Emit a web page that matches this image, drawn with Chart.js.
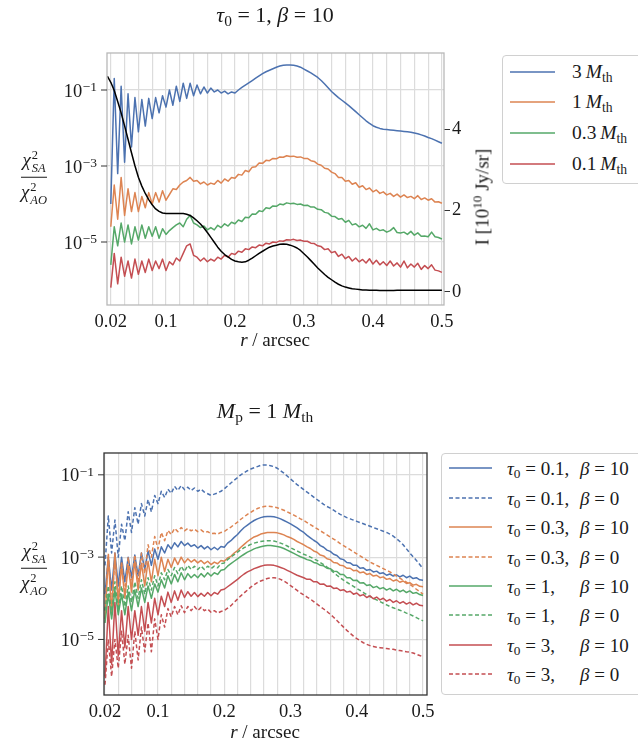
<!DOCTYPE html>
<html lang="en">
<head>
<meta charset="utf-8">
<title>Chi-square ratio vs radius</title>
<script src="https://cdn.jsdelivr.net/npm/chart.js@4.4.1/dist/chart.umd.min.js"></script>
<style>
  body { margin: 0; background: #fff; }
  #page { position: relative; width: 638px; height: 744px; overflow: hidden;
          font-family: "Liberation Serif", serif; color: #1a1a1a; }
  canvas { position: absolute; left: 0; }
  .txt { position: absolute; white-space: nowrap; line-height: 1; transform: translate(-50%, -50%); }
  sub { font-size: 0.7em; vertical-align: -0.25em; line-height: 0; }
  sup { font-size: 0.7em; vertical-align: 0.5em; line-height: 0; }
  .frac { position: absolute; transform: translate(-50%, -50%); text-align: center; font-size: 19px; line-height: 1; }
  .frac .num { border-bottom: 1.3px solid #1a1a1a; padding: 0 1px 2px 1px; }
  .frac .den { padding-top: 3px; }
  .ss { display: inline-block; vertical-align: middle; font-size: 12.5px; text-align: left; line-height: 1.05; margin-left: 1px; }
  .ss span { display: block; }
  .legbox { position: absolute; border: 1px solid #d0d0d0; border-radius: 4px; background: #fff; }
  .legrow { position: absolute; left: 0; width: 100%; height: 0; }
  .legrow svg { position: absolute; top: -4px; }
  .legrow .lab { position: absolute; top: 0; transform: translateY(-50%); white-space: nowrap; line-height: 1; }
  .taupart { display: inline-block; width: 73px; }
</style>
</head>
<body>
<div id="page">
  <canvas id="topChart" width="520" height="345" style="top:0"></canvas>
  <canvas id="bottomChart" width="450" height="345" style="top:400px"></canvas>

  <div class="txt" style="left:275px; top:15px; font-size:22px;"><i>τ</i><sub>0</sub> = 1, <i>β</i> = 10</div>
  <div class="txt" style="left:265px; top:411px; font-size:22px;"><i>M</i><sub>p</sub> = 1 <i>M</i><sub>th</sub></div>
  <div class="txt" style="left:275px; top:339px; font-size:19px;"><i>r</i> / arcsec</div>
  <div class="txt" style="left:265px; top:731px; font-size:19px;"><i>r</i> / arcsec</div>
  <div class="txt" style="left:482px; top:197px; font-size:19px; transform: translate(-50%, -50%) rotate(-90deg);">I [10<sup>10</sup> Jy/sr]</div>

  <div class="frac" style="left:34px; top:178px;">
    <div class="num"><i>χ</i><span class="ss"><span>2</span><span><i>SA</i></span></span></div>
    <div class="den"><i>χ</i><span class="ss"><span>2</span><span><i>AO</i></span></span></div>
  </div>
  <div class="frac" style="left:34px; top:569px;">
    <div class="num"><i>χ</i><span class="ss"><span>2</span><span><i>SA</i></span></span></div>
    <div class="den"><i>χ</i><span class="ss"><span>2</span><span><i>AO</i></span></span></div>
  </div>

  <div id="topLegend" class="legbox" style="left:502px; top:55px; width:150px; height:127px;"></div>
  <div id="bottomLegend" class="legbox" style="left:441px; top:453px; width:210px; height:240px;"></div>
</div>

<script>
// radius grid (arcsec)
const rValues = [
  0.015, 0.02, 0.025, 0.03, 0.035, 0.04, 0.045, 0.05, 0.055, 0.06,
  0.065, 0.07, 0.075, 0.08, 0.085, 0.09, 0.095, 0.1, 0.105, 0.11,
  0.115, 0.12, 0.125, 0.13, 0.135, 0.14, 0.145, 0.15, 0.155, 0.16,
  0.165, 0.17, 0.175, 0.18, 0.185, 0.19, 0.195, 0.2, 0.205, 0.21,
  0.215, 0.22, 0.225, 0.23, 0.235, 0.24, 0.245, 0.25, 0.255, 0.26,
  0.265, 0.27, 0.275, 0.28, 0.285, 0.29, 0.295, 0.3, 0.305, 0.31,
  0.315, 0.32, 0.325, 0.33, 0.335, 0.34, 0.345, 0.35, 0.355, 0.36,
  0.365, 0.37, 0.375, 0.38, 0.385, 0.39, 0.395, 0.4, 0.405, 0.41,
  0.415, 0.42, 0.425, 0.43, 0.435, 0.44, 0.445, 0.45, 0.455, 0.46,
  0.465, 0.47, 0.475, 0.48, 0.485, 0.49, 0.495, 0.5
];

// top panel: log10(chi2_SA / chi2_AO) for each planet mass
const massLabels = ['3', '1', '0.3', '0.1'];
const logChi3Mth = [
  null, -4.0, -0.7, -3.2, -0.9, -2.9, -1.1, -2.5, -1.2, -2.1,
  -1.25, -1.95, -1.22, -1.75, -1.2, -1.6, -1.15, -1.45, -1.0, -1.4,
  -0.9, -1.3, -0.82, -1.22, -0.82, -1.15, -0.87, -1.1, -0.92, -1.08,
  -0.95, -1.05, -1.0, -1.08, -1.03, -1.1, -1.05, -1.08, -1.0, -0.93,
  -0.87, -0.81, -0.75, -0.69, -0.63, -0.57, -0.52, -0.48, -0.44, -0.4,
  -0.37, -0.35, -0.34, -0.34, -0.35, -0.37, -0.4, -0.45, -0.5, -0.55,
  -0.61, -0.67, -0.75, -0.84, -0.94, -1.04, -1.12, -1.2, -1.27, -1.34,
  -1.41, -1.49, -1.57, -1.65, -1.73, -1.81, -1.88, -1.94, -1.98, -2.01,
  -2.03, -2.04, -2.05, -2.06, -2.07, -2.08, -2.09, -2.1, -2.11, -2.13,
  -2.15, -2.18, -2.21, -2.25, -2.28, -2.32, -2.36, -2.4
];
const logChi1Mth = [
  null, -4.6, -3.5, -4.4, -3.3, -4.3, -3.6, -4.2, -3.7, -4.2,
  -3.8, -4.1, -3.7, -4.0, -3.7, -3.95, -3.65, -3.9, -3.75, -3.6,
  -3.62, -3.5, -3.42, -3.38, -3.3, -3.4, -3.38, -3.47, -3.42, -3.5,
  -3.45, -3.48, -3.38, -3.45, -3.34, -3.4, -3.3, -3.32, -3.22, -3.24,
  -3.12, -3.15, -3.03, -3.02, -2.92, -2.93, -2.85, -2.86, -2.8, -2.81,
  -2.76, -2.77, -2.73, -2.75, -2.74, -2.77, -2.76, -2.8, -2.8, -2.86,
  -2.88, -2.95, -2.98, -3.06, -3.08, -3.16, -3.2, -3.3, -3.3, -3.4,
  -3.38, -3.48, -3.44, -3.56, -3.52, -3.62, -3.58, -3.68, -3.63, -3.72,
  -3.68, -3.76, -3.72, -3.8, -3.74, -3.82, -3.76, -3.83, -3.8, -3.86,
  -3.78, -3.88, -3.84, -3.9, -3.86, -3.95, -3.94, -3.98
];
const logChi03Mth = [
  null, -5.6, -4.6, -5.1, -4.5, -5.0, -4.55, -5.05, -4.6, -4.95,
  -4.55, -4.9, -4.6, -4.85, -4.6, -4.9, -4.65, -4.8, -4.7, -4.62,
  -4.55, -4.5, -4.6, -4.4, -4.3, -4.5, -4.55, -4.62, -4.58, -4.68,
  -4.62, -4.68, -4.56, -4.62, -4.52, -4.58, -4.48, -4.52, -4.42, -4.46,
  -4.35, -4.36, -4.26, -4.27, -4.18, -4.2, -4.1, -4.12, -4.05, -4.06,
  -4.0, -4.02, -3.97, -3.99, -3.98, -4.01, -4.0, -4.04, -4.03, -4.08,
  -4.08, -4.14, -4.15, -4.22, -4.24, -4.32, -4.33, -4.4, -4.38, -4.48,
  -4.43, -4.55, -4.52, -4.6, -4.56, -4.64, -4.52, -4.68, -4.64, -4.7,
  -4.68, -4.74, -4.7, -4.62, -4.75, -4.76, -4.74, -4.8, -4.72, -4.82,
  -4.76, -4.85, -4.84, -4.86, -4.74, -4.86, -4.88, -4.92
];
const logChi01Mth = [
  null, -6.2, -5.3, -6.1, -5.4, -5.9, -5.5, -5.95, -5.45, -5.85,
  -5.5, -5.8, -5.45, -5.75, -5.5, -5.7, -5.45, -5.75, -5.52, -5.6,
  -5.42, -5.5, -5.3, -5.1, -5.05, -5.35, -5.4, -5.5, -5.42, -5.52,
  -5.45, -5.5, -5.4, -5.45, -5.35, -5.4, -5.3, -5.33, -5.24, -5.27,
  -5.18, -5.2, -5.13, -5.15, -5.08, -5.1, -5.03, -5.05, -5.0, -5.01,
  -4.97, -4.98, -4.94, -4.95, -4.93, -4.96, -4.95, -4.98, -4.98, -5.03,
  -5.04, -5.1, -5.12, -5.2, -5.18, -5.28, -5.25, -5.38, -5.32, -5.44,
  -5.38, -5.5, -5.42, -5.52, -5.46, -5.55, -5.44, -5.58, -5.48, -5.6,
  -5.52, -5.62, -5.5, -5.63, -5.55, -5.66, -5.5, -5.68, -5.58, -5.66,
  -5.56, -5.72, -5.62, -5.7, -5.6, -5.74, -5.76, -5.8
];
// disc intensity profile, 10^10 Jy/sr (right axis)
const intensityI = [
  5.3, 5.15, 4.95, 4.68, 4.4, 4.08, 3.75, 3.42, 3.1, 2.82,
  2.6, 2.42, 2.27, 2.14, 2.04, 1.98, 1.94, 1.93, 1.93, 1.93,
  1.93, 1.93, 1.93, 1.91, 1.88, 1.82, 1.75, 1.67, 1.57, 1.46,
  1.34, 1.22, 1.1, 1.0, 0.92, 0.86, 0.8, 0.76, 0.74, 0.73,
  0.74, 0.78, 0.83, 0.89, 0.95, 1.0, 1.05, 1.1, 1.13, 1.15,
  1.17, 1.18, 1.17, 1.15, 1.12, 1.08, 1.02, 0.94, 0.86, 0.77,
  0.68, 0.59, 0.51, 0.43, 0.36, 0.3, 0.24, 0.19, 0.15, 0.12,
  0.1, 0.08, 0.07, 0.06, 0.05, 0.05, 0.045, 0.04, 0.04, 0.035,
  0.035, 0.035, 0.035, 0.035, 0.04, 0.04, 0.04, 0.04, 0.045, 0.045,
  0.045, 0.045, 0.045, 0.045, 0.04, 0.04, 0.04, 0.04
];

// bottom panel: log10(chi2 ratio) for M_p = 1 M_th
const tauValues = ['0.1', '0.1', '0.3', '0.3', '1', '1', '3', '3'];
const betaValues = ['10', '0', '10', '0', '10', '0', '10', '0'];
const logTau01Beta10 = [
  null, -3.9, -3.0, -3.8, -2.9, -3.7, -3.0, -3.6, -3.0, -3.5,
  -2.95, -3.45, -2.9, -3.3, -2.85, -3.2, -2.8, -3.05, -2.75, -2.9,
  -2.7, -2.8, -2.65, -2.75, -2.62, -2.72, -2.66, -2.74, -2.7, -2.78,
  -2.72, -2.8, -2.74, -2.82, -2.76, -2.82, -2.74, -2.76, -2.66, -2.6,
  -2.52, -2.45, -2.36, -2.28, -2.22, -2.16, -2.11, -2.07, -2.04, -2.02,
  -2.01, -2.01, -2.02, -2.04, -2.07, -2.11, -2.15, -2.19, -2.24, -2.29,
  -2.35, -2.4, -2.47, -2.53, -2.59, -2.64, -2.72, -2.76, -2.83, -2.86,
  -2.93, -2.96, -3.04, -3.06, -3.13, -3.14, -3.2, -3.2, -3.27, -3.26,
  -3.32, -3.3, -3.36, -3.34, -3.4, -3.38, -3.44, -3.41, -3.46, -3.43,
  -3.48, -3.44, -3.5, -3.46, -3.52, -3.5, -3.55, -3.56
];
const logTau01Beta0 = [
  null, -3.2, -2.0, -2.9, -2.1, -3.0, -2.2, -2.6, -1.9, -2.4,
  -1.8, -2.2, -1.7, -2.0, -1.6, -1.9, -1.5, -1.7, -1.4, -1.55,
  -1.35, -1.45, -1.28, -1.38, -1.26, -1.36, -1.3, -1.38, -1.32, -1.4,
  -1.35, -1.42, -1.46, -1.5, -1.47, -1.44, -1.4, -1.34, -1.27, -1.2,
  -1.13, -1.07, -1.0, -0.95, -0.9, -0.86, -0.83, -0.8, -0.77, -0.76,
  -0.76, -0.78, -0.8, -0.84, -0.9, -0.96, -1.03, -1.1, -1.17, -1.24,
  -1.3, -1.36, -1.42, -1.48, -1.54, -1.6, -1.66, -1.72, -1.77, -1.81,
  -1.86, -1.91, -1.96, -2.0, -2.04, -2.07, -2.1, -2.13, -2.16, -2.19,
  -2.22, -2.25, -2.28, -2.31, -2.34, -2.37, -2.4, -2.44, -2.49, -2.55,
  -2.62, -2.7, -2.8, -2.9, -2.99, -3.08, -3.18, -3.28
];
const logTau03Beta10 = [
  null, -4.5, -3.0, -4.4, -2.9, -4.2, -3.2, -4.0, -3.2, -3.85,
  -3.1, -3.8, -3.15, -3.7, -3.1, -3.6, -3.05, -3.45, -3.0, -3.35,
  -3.05, -3.25, -3.02, -3.18, -3.0, -3.14, -3.04, -3.12, -3.06, -3.14,
  -3.08, -3.16, -3.1, -3.18, -3.12, -3.16, -3.08, -3.1, -3.02, -2.98,
  -2.9, -2.84, -2.76, -2.69, -2.62, -2.56, -2.51, -2.48, -2.44, -2.42,
  -2.4, -2.4, -2.4, -2.41, -2.43, -2.46, -2.5, -2.53, -2.57, -2.62,
  -2.66, -2.7, -2.75, -2.79, -2.85, -2.88, -2.95, -2.97, -3.04, -3.06,
  -3.13, -3.14, -3.2, -3.21, -3.27, -3.27, -3.33, -3.32, -3.38, -3.36,
  -3.42, -3.4, -3.46, -3.44, -3.5, -3.48, -3.54, -3.52, -3.58, -3.55,
  -3.61, -3.58, -3.64, -3.62, -3.68, -3.66, -3.71, -3.72
];
const logTau03Beta0 = [
  null, -4.3, -2.9, -4.2, -3.0, -4.0, -3.1, -3.9, -3.0, -3.7,
  -2.95, -3.6, -2.9, -3.4, -2.7, -3.0, -2.5, -2.8, -2.4, -2.6,
  -2.35, -2.45, -2.3, -2.38, -2.28, -2.36, -2.3, -2.36, -2.32, -2.38,
  -2.34, -2.4, -2.38, -2.43, -2.42, -2.44, -2.4, -2.38, -2.32, -2.27,
  -2.21, -2.15, -2.08, -2.02, -1.96, -1.91, -1.86, -1.82, -1.79, -1.77,
  -1.76, -1.77, -1.78, -1.8, -1.83, -1.86, -1.9, -1.94, -1.98, -2.02,
  -2.07, -2.11, -2.16, -2.21, -2.26, -2.31, -2.36, -2.41, -2.46, -2.51,
  -2.56, -2.61, -2.67, -2.72, -2.77, -2.82, -2.87, -2.92, -2.97, -3.02,
  -3.07, -3.12, -3.16, -3.2, -3.24, -3.28, -3.32, -3.36, -3.41, -3.46,
  -3.51, -3.56, -3.61, -3.66, -3.72, -3.78, -3.84, -3.9
];
const logTau1Beta10 = [
  null, -4.6, -3.9, -4.5, -3.8, -4.4, -3.9, -4.4, -3.85, -4.3,
  -3.8, -4.2, -3.75, -4.1, -3.7, -4.0, -3.65, -3.85, -3.55, -3.75,
  -3.45, -3.65, -3.42, -3.6, -3.38, -3.55, -3.4, -3.5, -3.42, -3.5,
  -3.4, -3.48, -3.38, -3.46, -3.38, -3.42, -3.32, -3.3, -3.22, -3.16,
  -3.1, -3.04, -2.98, -2.93, -2.88, -2.84, -2.8, -2.77, -2.75, -2.73,
  -2.72, -2.72, -2.73, -2.74, -2.76, -2.79, -2.83, -2.87, -2.91, -2.95,
  -2.99, -3.02, -3.06, -3.08, -3.13, -3.15, -3.2, -3.21, -3.27, -3.28,
  -3.34, -3.35, -3.42, -3.42, -3.5, -3.5, -3.57, -3.56, -3.63, -3.62,
  -3.69, -3.67, -3.74, -3.71, -3.77, -3.74, -3.8, -3.76, -3.82, -3.78,
  -3.84, -3.8, -3.86, -3.82, -3.88, -3.86, -3.91, -3.93
];
const logTau1Beta0 = [
  null, -4.3, -3.7, -4.4, -3.6, -4.3, -3.7, -4.2, -3.7, -4.1,
  -3.6, -4.0, -3.55, -3.9, -3.5, -3.8, -3.45, -3.7, -3.38, -3.55,
  -3.3, -3.45, -3.25, -3.4, -3.22, -3.35, -3.2, -3.3, -3.22, -3.3,
  -3.22, -3.3, -3.22, -3.28, -3.22, -3.26, -3.16, -3.14, -3.06, -3.0,
  -2.94, -2.88, -2.82, -2.77, -2.73, -2.69, -2.66, -2.64, -2.62, -2.61,
  -2.6, -2.6, -2.61, -2.63, -2.66, -2.69, -2.73, -2.77, -2.81, -2.85,
  -2.89, -2.93, -2.96, -3.0, -3.04, -3.08, -3.13, -3.18, -3.24, -3.3,
  -3.37, -3.44, -3.5, -3.56, -3.61, -3.66, -3.71, -3.76, -3.81, -3.86,
  -3.91, -3.96, -4.0, -4.04, -4.08, -4.12, -4.16, -4.2, -4.23, -4.26,
  -4.29, -4.32, -4.36, -4.39, -4.43, -4.47, -4.51, -4.55
];
const logTau3Beta10 = [
  null, -5.9, -4.2, -5.6, -4.1, -5.4, -4.3, -5.2, -4.2, -5.0,
  -4.3, -4.9, -4.2, -4.8, -4.1, -4.6, -4.0, -4.4, -3.95, -4.2,
  -3.85, -4.1, -3.82, -4.05, -3.8, -3.98, -3.84, -3.95, -3.86, -3.96,
  -3.88, -3.95, -3.86, -3.94, -3.86, -3.9, -3.8, -3.78, -3.72, -3.66,
  -3.6, -3.54, -3.47, -3.41, -3.36, -3.32, -3.28, -3.25, -3.22, -3.2,
  -3.19, -3.19, -3.2, -3.22, -3.25, -3.28, -3.32, -3.36, -3.4, -3.44,
  -3.47, -3.5, -3.54, -3.54, -3.6, -3.6, -3.66, -3.65, -3.71, -3.7,
  -3.76, -3.75, -3.81, -3.79, -3.85, -3.83, -3.9, -3.87, -3.94, -3.91,
  -3.98, -3.94, -4.01, -3.97, -4.04, -4.0, -4.07, -4.03, -4.1, -4.06,
  -4.12, -4.08, -4.14, -4.1, -4.16, -4.12, -4.17, -4.18
];
const logTau3Beta0 = [
  null, -6.1, -5.0, -5.9, -5.0, -5.7, -4.8, -5.6, -4.9, -5.7,
  -4.8, -5.5, -4.7, -5.3, -4.6, -5.3, -4.5, -5.0, -4.4, -4.7,
  -4.25, -4.45, -4.2, -4.4, -4.18, -4.35, -4.2, -4.3, -4.2, -4.3,
  -4.22, -4.3, -4.26, -4.34, -4.3, -4.36, -4.32, -4.3, -4.24, -4.18,
  -4.1, -4.02, -3.94, -3.87, -3.8, -3.73, -3.67, -3.62, -3.58, -3.55,
  -3.52, -3.5, -3.5, -3.51, -3.54, -3.58, -3.63, -3.69, -3.75, -3.81,
  -3.87, -3.92, -3.97, -4.02, -4.08, -4.14, -4.2, -4.26, -4.32, -4.39,
  -4.46, -4.54, -4.62, -4.7, -4.78, -4.85, -4.92, -4.98, -5.03, -5.08,
  -5.12, -5.15, -5.17, -5.19, -5.2, -5.21, -5.22, -5.23, -5.24, -5.26,
  -5.27, -5.28, -5.3, -5.31, -5.33, -5.36, -5.39, -5.42
];

// axis ticks
const xTickValues = [0.02, 0.04, 0.06, 0.08, 0.1, 0.12, 0.14, 0.16, 0.18, 0.2, 0.22, 0.24, 0.26,
                     0.28, 0.3, 0.32, 0.34, 0.36, 0.38, 0.4, 0.42, 0.44, 0.46, 0.48, 0.5];
const xLabelValues = [0.02, 0.1, 0.2, 0.3, 0.4, 0.5];
const xLabelTexts = ['0.02', '0.1', '0.2', '0.3', '0.4', '0.5'];
const yTickValues = [1e-1, 1e-3, 1e-5];
const yTickExponents = ['−1', '−3', '−5'];
const iTickValues = [0, 2, 4];

const COLORS = { blue: '#4c72b0', orange: '#dd8452', green: '#55a868', red: '#c44e52' };
const seriesColors = [COLORS.blue, COLORS.orange, COLORS.green, COLORS.red];
const DASH = [4, 2.5];
const FONT = '"Liberation Serif", serif';

function logPoints(logs) {
  return rValues.map((r, i) => ({ x: r, y: logs[i] === null ? null : Math.pow(10, logs[i]) }));
}
function linPoints(vals) {
  return rValues.map((r, i) => ({ x: r, y: vals[i] }));
}

// frame around the plot area
const framePlugin = {
  id: 'frame',
  afterDatasetsDraw(chart, args, opts) {
    const a = chart.chartArea, ctx = chart.ctx;
    ctx.save();
    ctx.strokeStyle = opts.color;
    ctx.lineWidth = 1.3;
    ctx.strokeRect(a.left, a.top, a.right - a.left, a.bottom - a.top);
    ctx.restore();
  }
};

// 10^n labels with real superscripts
const powLabelPlugin = {
  id: 'powLabels',
  afterDraw(chart) {
    const s = chart.scales.y, a = chart.chartArea, ctx = chart.ctx;
    ctx.save();
    yTickValues.forEach((v, i) => {
      const py = s.getPixelForValue(v);
      ctx.strokeStyle = '#333';
      ctx.lineWidth = 1;
      ctx.beginPath();
      ctx.moveTo(a.left - 6, py);
      ctx.lineTo(a.left, py);
      ctx.stroke();
      const right = a.left - 10;
      ctx.fillStyle = '#1a1a1a';
      ctx.font = '13.5px ' + FONT;
      const ew = ctx.measureText(yTickExponents[i]).width;
      ctx.textAlign = 'left';
      ctx.textBaseline = 'alphabetic';
      ctx.fillText(yTickExponents[i], right - ew, py + 1);
      ctx.font = '18.5px ' + FONT;
      ctx.textAlign = 'right';
      ctx.fillText('10', right - ew - 0.5, py + 6.5);
    });
    ctx.restore();
  }
};

function xScale(min, max) {
  return {
    type: 'linear', min: min, max: max,
    afterBuildTicks: (scale) => { scale.ticks = xTickValues.map(v => ({ value: v })); },
    afterFit: (scale) => { scale.height = 40; },
    grid: { color: '#dcdcdc', lineWidth: 1.2, drawTicks: false },
    border: { display: false },
    ticks: {
      autoSkip: false, maxRotation: 0, padding: 6,
      color: '#1a1a1a', font: { family: FONT, size: 18.5 },
      callback: (value) => {
        const k = xLabelValues.indexOf(value);
        return k >= 0 ? xLabelTexts[k] : '';
      }
    }
  };
}

function yScale(min, max, width) {
  return {
    type: 'logarithmic', min: min, max: max,
    afterBuildTicks: (scale) => { scale.ticks = yTickValues.map(v => ({ value: v })); },
    afterFit: (scale) => { scale.width = width; },
    grid: { color: '#dcdcdc', lineWidth: 1.2, drawTicks: false },
    border: { display: false },
    ticks: { display: false }
  };
}

const lineDefaults = { pointRadius: 0, borderWidth: 1.5, tension: 0, fill: false, borderJoinStyle: 'round' };

// ---- top panel ----
const topSeries = [logChi3Mth, logChi1Mth, logChi03Mth, logChi01Mth];
const topDatasets = topSeries.map((s, k) => Object.assign({
  label: massLabels[k] + ' M_th', data: logPoints(s), borderColor: seriesColors[k],
  yAxisID: 'y', order: 4 - k
}, lineDefaults));
topDatasets.push(Object.assign({
  label: 'I', data: linPoints(intensityI), borderColor: '#000', yAxisID: 'y2', order: 0
}, lineDefaults));

new Chart(document.getElementById('topChart'), {
  type: 'line',
  data: { datasets: topDatasets },
  options: {
    responsive: false, animation: false,
    layout: { padding: { top: 53, left: 0, right: 20, bottom: 0 } },
    plugins: { legend: { display: false }, tooltip: { enabled: false }, frame: { color: '#b8b8b8' } },
    scales: {
      x: xScale(0.0145, 0.503),
      y: yScale(2.2e-7, 0.942, 107),
      y2: {
        type: 'linear', position: 'right', min: -0.32, max: 5.87,
        afterBuildTicks: (scale) => { scale.ticks = iTickValues.map(v => ({ value: v })); },
        afterFit: (scale) => { scale.width = 56; },
        grid: { drawOnChartArea: false, drawTicks: true, tickLength: 6, tickColor: '#333', tickWidth: 1 },
        border: { display: false },
        ticks: { padding: 2, color: '#1a1a1a', font: { family: FONT, size: 18.5 } }
      }
    }
  },
  plugins: [framePlugin, powLabelPlugin]
});

// ---- bottom panel ----
const bottomSeries = [logTau01Beta10, logTau01Beta0, logTau03Beta10, logTau03Beta0,
                      logTau1Beta10, logTau1Beta0, logTau3Beta10, logTau3Beta0];
const bottomDatasets = bottomSeries.map((s, k) => Object.assign({
  label: 'tau0=' + tauValues[k] + ', beta=' + betaValues[k], data: logPoints(s),
  borderColor: seriesColors[Math.floor(k / 2)], borderDash: k % 2 ? DASH : [],
  order: 8 - k
}, lineDefaults));

new Chart(document.getElementById('bottomChart'), {
  type: 'line',
  data: { datasets: bottomDatasets },
  options: {
    responsive: false, animation: false,
    layout: { padding: { top: 53, left: 0, right: 23, bottom: 0 } },
    plugins: { legend: { display: false }, tooltip: { enabled: false }, frame: { color: '#333' } },
    scales: {
      x: Object.assign(xScale(0.0185, 0.506), { afterFit: (scale) => { scale.height = 50; } }),
      y: yScale(4.47e-7, 0.339, 104)
    }
  },
  plugins: [framePlugin, powLabelPlugin]
});

// ---- legends (HTML text) ----
function sample(color, dashed, width) {
  return '<svg width="' + width + '" height="8"><line x1="0" y1="4" x2="' + width + '" y2="4" stroke="' +
    color + '" stroke-width="1.6"' + (dashed ? ' stroke-dasharray="4 2.5"' : '') + '/></svg>';
}
const topLegend = document.getElementById('topLegend');
massLabels.forEach((m, k) => {
  const row = document.createElement('div');
  row.className = 'legrow';
  row.style.top = (15.5 + 30.7 * k) + 'px';
  row.innerHTML = '<span style="position:absolute;left:7px;top:0">' + sample(seriesColors[k], false, 45) + '</span>' +
    '<span class="lab" style="left:69px;font-size:19.5px">' + m + '&thinsp;<i>M</i><sub>th</sub></span>';
  topLegend.appendChild(row);
});
const bottomLegend = document.getElementById('bottomLegend');
tauValues.forEach((t, k) => {
  const row = document.createElement('div');
  row.className = 'legrow';
  row.style.top = (14.3 + 29.4 * k) + 'px';
  row.innerHTML = '<span style="position:absolute;left:7px;top:0">' + sample(seriesColors[Math.floor(k / 2)], k % 2 === 1, 43) + '</span>' +
    '<span class="lab" style="left:65px;font-size:19px"><span class="taupart"><i>τ</i><sub>0</sub> = ' + t + ',</span>' +
    '<i>β</i> = ' + betaValues[k] + '</span>';
  bottomLegend.appendChild(row);
});
</script>
</body>
</html>
